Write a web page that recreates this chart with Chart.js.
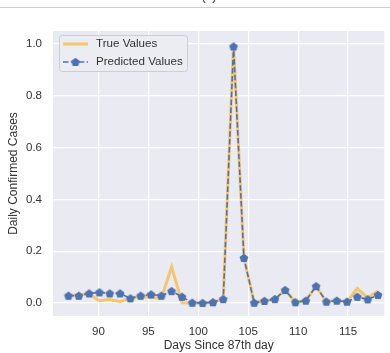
<!DOCTYPE html>
<html>
<head>
<meta charset="utf-8">
<script src="https://cdn.jsdelivr.net/npm/chart.js@4"></script>
<style>
  html, body { margin: 0; padding: 0; background: #fff; overflow: hidden; }
  #wrap { width: 390px; height: 353px; }
</style>
</head>
<body>
<div id="wrap"><canvas id="chart" width="390" height="353"></canvas></div>
<script>
// days (31 evenly spaced samples from day 87 to day 118)
const days = [87.00, 88.03, 89.07, 90.10, 91.13, 92.17, 93.20, 94.23, 95.27, 96.30,
  97.33, 98.37, 99.40, 100.43, 101.47, 102.50, 103.53, 104.57, 105.60, 106.63,
  107.67, 108.70, 109.73, 110.77, 111.80, 112.83, 113.87, 114.90, 115.93, 116.97, 118.00];
const trueValues = [0.028, 0.032, 0.035, 0.009, 0.014, 0.005, 0.020, 0.025, 0.022, 0.018,
  0.140, 0.001, 0.000, 0.000, 0.003, 0.015, 1.000, 0.176, 0.001, 0.008,
  0.015, 0.050, 0.003, 0.009, 0.065, 0.005, 0.009, 0.005, 0.056, 0.020, 0.046];
const predictedValues = [0.028, 0.028, 0.037, 0.041, 0.037, 0.037, 0.018, 0.028, 0.033, 0.028,
  0.046, 0.024, 0.001, 0.000, 0.003, 0.015, 0.990, 0.174, 0.001, 0.008,
  0.015, 0.050, 0.003, 0.009, 0.065, 0.005, 0.009, 0.005, 0.024, 0.014, 0.031];
const xTicks = [90, 95, 100, 105, 110, 115];
const yTicks = [0.0, 0.2, 0.4, 0.6, 0.8, 1.0];

const FONT = '"Liberation Sans", Arial, sans-serif';
const ORANGE = 'rgba(255,165,0,0.55)';
const BLUE = '#4C72B0';
const TEXT = '#333333';

// pentagon marker (matplotlib 'p')
function makePentagon(r, color) {
  const size = Math.ceil(r * 2) + 2;
  const c = document.createElement('canvas');
  c.width = size; c.height = size;
  const g = c.getContext('2d');
  g.fillStyle = color;
  g.beginPath();
  for (let i = 0; i < 5; i++) {
    const a = -Math.PI / 2 + i * 2 * Math.PI / 5;
    const px = size / 2 + r * Math.cos(a);
    const py = size / 2 + r * Math.sin(a) + 0.4;
    if (i === 0) g.moveTo(px, py); else g.lineTo(px, py);
  }
  g.closePath();
  g.fill();
  return c;
}
const pentagon = makePentagon(4.6, BLUE);

// plot background + top caption remnant
const backdrop = {
  id: 'backdrop',
  beforeDraw(chart) {
    const { ctx, chartArea: a } = chart;
    ctx.save();
    ctx.fillStyle = '#EAEAF2';
    ctx.fillRect(a.left, a.top, a.right - a.left, a.bottom - a.top);
    ctx.strokeStyle = '#D0D0D0';
    ctx.lineWidth = 1;
    ctx.beginPath();
    ctx.moveTo(0, 7.5);
    ctx.lineTo(chart.width, 7.5);
    ctx.stroke();
    ctx.fillStyle = TEXT;
    ctx.font = '13px ' + FONT;
    ctx.textAlign = 'center';
    ctx.textBaseline = 'alphabetic';
    ctx.fillText('(c)', 209, 0);
    ctx.restore();
  }
};

// legend in the upper left of the plot
const innerLegend = {
  id: 'innerLegend',
  afterDatasetsDraw(chart) {
    const { ctx } = chart;
    const x = 59, y = 35, w = 128, h = 36;
    ctx.save();
    ctx.beginPath();
    ctx.roundRect(x + 0.5, y + 0.5, w, h, 3);
    ctx.fillStyle = 'rgba(236,236,243,0.92)';
    ctx.fill();
    ctx.strokeStyle = '#CDCDD4';
    ctx.lineWidth = 1;
    ctx.stroke();

    ctx.lineWidth = 3;
    ctx.strokeStyle = ORANGE;
    ctx.beginPath();
    ctx.moveTo(63, 44);
    ctx.lineTo(88, 44);
    ctx.stroke();

    ctx.lineWidth = 1.6;
    ctx.strokeStyle = BLUE;
    ctx.setLineDash([5.5, 2.4]);
    ctx.beginPath();
    ctx.moveTo(63, 62);
    ctx.lineTo(88, 62);
    ctx.stroke();
    ctx.setLineDash([]);
    ctx.drawImage(pentagon, 75.5 - pentagon.width / 2, 62 - pentagon.height / 2);

    ctx.fillStyle = TEXT;
    ctx.font = '11.6px ' + FONT;
    ctx.textAlign = 'left';
    ctx.textBaseline = 'middle';
    ctx.fillText(chart.data.datasets[0].label, 96, 44);
    ctx.fillText(chart.data.datasets[1].label, 96, 62);
    ctx.restore();
  }
};

new Chart(document.getElementById('chart'), {
  type: 'line',
  data: {
    datasets: [
      {
        label: 'True Values',
        data: days.map((d, i) => ({ x: d, y: trueValues[i] })),
        borderColor: ORANGE,
        borderWidth: 3,
        pointRadius: 0,
        tension: 0,
        order: 2
      },
      {
        label: 'Predicted Values',
        data: days.map((d, i) => ({ x: d, y: predictedValues[i] })),
        borderColor: BLUE,
        borderWidth: 1.6,
        borderDash: [5.5, 2.4],
        pointStyle: pentagon,
        pointRadius: 4,
        tension: 0,
        order: 1
      }
    ]
  },
  options: {
    responsive: false,
    animation: false,
    layout: { padding: { top: 31, left: 0, right: 0, bottom: 0 } },
    plugins: {
      legend: { display: false },
      tooltip: { enabled: false }
    },
    scales: {
      x: {
        type: 'linear',
        min: 85.45,
        max: 118.64,
        afterBuildTicks: s => { s.ticks = xTicks.map(v => ({ value: v })); },
        afterFit: s => { s.height = 37; },
        grid: { color: '#FFFFFF', lineWidth: 1.2, drawTicks: false },
        border: { display: false },
        ticks: { color: TEXT, font: { family: FONT, size: 11.5 }, padding: 9, maxRotation: 0 },
        title: { display: true, text: 'Days Since 87th day', color: TEXT,
                 font: { family: FONT, size: 12 }, padding: { top: 0, bottom: 0 } }
      },
      y: {
        min: -0.05,
        max: 1.05,
        afterBuildTicks: s => { s.ticks = yTicks.map(v => ({ value: v })); },
        afterFit: s => { s.width = 53; },
        grid: { color: '#FFFFFF', lineWidth: 1.2, drawTicks: false },
        border: { display: false },
        ticks: { color: TEXT, font: { family: FONT, size: 11.5 }, padding: 11,
                 callback: v => v.toFixed(1) },
        title: { display: true, text: 'Daily Confirmed Cases', color: TEXT,
                 font: { family: FONT, size: 12 }, padding: { top: 6, bottom: 0 } }
      }
    }
  },
  plugins: [backdrop, innerLegend]
});
</script>
</body>
</html>
